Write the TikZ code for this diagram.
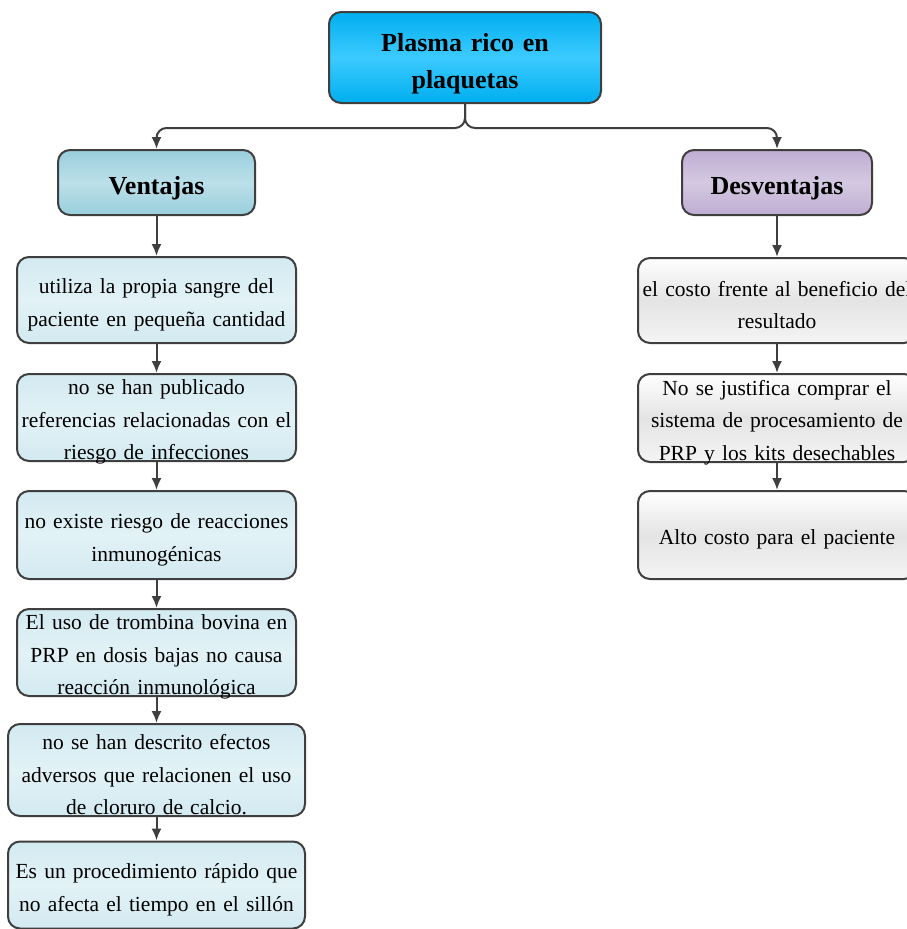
\documentclass[tikz,border=0pt]{standalone}
\usepackage{fontspec}
\setmainfont{Liberation Serif}
\usetikzlibrary{arrows.meta}
\definecolor{lineg}{HTML}{3F3F3F}
\definecolor{prpblue}{HTML}{00AEEF}
\definecolor{prplight}{HTML}{3CCBFF}
\definecolor{ventc}{HTML}{99CEDC}
\definecolor{ventl}{HTML}{BCE0E9}
\definecolor{desvc}{HTML}{BFADD2}
\definecolor{desvl}{HTML}{D4C9E1}
\definecolor{itemc}{HTML}{D3EAF1}
\definecolor{iteml}{HTML}{E2F2F6}
\definecolor{grayc}{HTML}{E4E4E4}

\begin{document}
\begin{tikzpicture}[x=1pt,y=-1pt,>={Latex[length=12pt,width=10pt]},line width=2pt,
  box/.style={draw=lineg,rounded corners=12pt,align=center,inner xsep=3pt,inner ysep=0pt},
  txt/.style={font=\fontsize{21.5}{32.5}\selectfont,execute at begin node={\rule{0pt}{19.5pt}},execute at end node={\endgraf\vspace{-5pt}}},
  ttl/.style={font=\fontsize{26}{37}\selectfont\bfseries,execute at begin node={\rule{0pt}{30pt}}},
  vbox/.style={box,txt,top color=itemc,bottom color=itemc,middle color=iteml,minimum width=279pt,text width=273pt},
  dbox/.style={box,txt,top color=white,bottom color=white!60!grayc,middle color=grayc,minimum width=278pt,text width=272pt},
  conn/.style={draw=lineg,->}]
\useasboundingbox (0,0) rectangle (906,929);
\node[box,ttl,top color=prpblue,bottom color=prpblue,middle color=prplight,minimum width=272pt,minimum height=91pt,text width=266pt] (prp) at (465,57.5) {Plasma rico en\\plaquetas};
\node[box,ttl,top color=ventc,bottom color=ventc,middle color=ventl,minimum width=197pt,minimum height=65pt,text width=191pt] (vent) at (156.5,182.5) {Ventajas};
\node[box,ttl,top color=desvc,bottom color=desvc,middle color=desvl,minimum width=190pt,minimum height=65pt,text width=184pt] (desv) at (777,182.5) {Desventajas};
% ventajas
\node[vbox,minimum height=86pt] (v1) at (156.5,300) {utiliza la propia sangre del\\paciente en pequeña cantidad};
\node[vbox,minimum height=87pt] (v2) at (156.5,417.5) {no se han publicado\\referencias relacionadas con el\\riesgo de infecciones};
\node[vbox,minimum height=88pt] (v3) at (156.5,535) {no existe riesgo de reacciones\\inmunogénicas};
\node[vbox,minimum height=87pt] (v4) at (156.5,652.5) {El uso de trombina bovina en\\PRP en dosis bajas no causa\\reacción inmunológica};
\node[vbox,minimum width=297pt,text width=291pt,minimum height=92pt] (v5) at (156.5,770) {no se han descrito efectos\\adversos que relacionen el uso\\de cloruro de calcio.};
\node[vbox,minimum width=297pt,text width=291pt,minimum height=87pt] (v6) at (156.5,885) {Es un procedimiento rápido que\\no afecta el tiempo en el sillón};
% desventajas
\node[dbox,minimum height=85pt] (d1) at (777,300.5) {el costo frente al beneficio del\\resultado};
\node[dbox,minimum height=88pt] (d2) at (777,418) {No se justifica comprar el\\sistema de procesamiento de\\PRP y los kits desechables};
\node[dbox,minimum height=88pt] (d3) at (777,535) {Alto costo para el paciente};
\draw[conn,rounded corners=10pt] (prp.south) -- ++(0,24) -| (vent.north);
\draw[conn,rounded corners=10pt] (prp.south) -- ++(0,24) -| (desv.north);
\draw[conn] (vent) -- (v1); \draw[conn] (v1) -- (v2); \draw[conn] (v2) -- (v3);
\draw[conn] (v3) -- (v4); \draw[conn] (v4) -- (v5); \draw[conn] (v5) -- (v6);
\draw[conn] (desv) -- (d1); \draw[conn] (d1) -- (d2); \draw[conn] (d2) -- (d3);
\end{tikzpicture}
\end{document}
